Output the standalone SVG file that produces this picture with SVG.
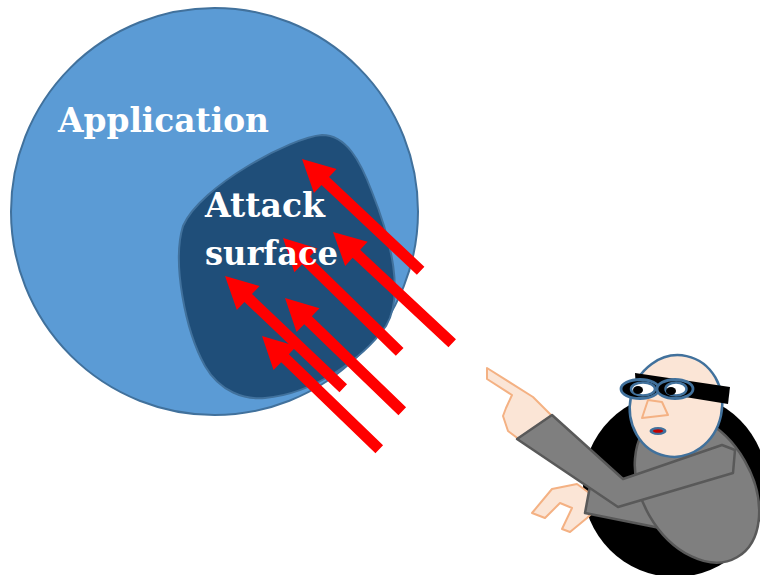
<svg xmlns="http://www.w3.org/2000/svg" xmlns:xlink="http://www.w3.org/1999/xlink" width="760" height="575" viewBox="0 0 760 575">
  <style>
    .label { font-family: "DejaVu Serif", "Liberation Serif", serif; font-weight: bold; fill: #ffffff; }
    .skin { fill: #fbe5d6; stroke: #f4b183; stroke-width: 2; stroke-linejoin: round; }
    .cloth { fill: #7f7f7f; stroke: #595959; stroke-width: 2.5; stroke-linejoin: round; }
    .rim { fill: #fbe5d6; stroke: #41719c; stroke-width: 2.5; }
    .lens-out { fill: #000000; stroke: #41719c; stroke-width: 2.8; }
    .lens-in { fill: #ffffff; stroke: #41719c; stroke-width: 2.5; }
    .arrow { fill: #ff0000; }
  </style>
  <defs>
    <!-- arrow pointing along -x, tip at origin -->
    <path id="arr" d="M0,0 L32,-16.5 L32,-5.5 L163,-5.5 L163,5.5 L32,5.5 L32,16.5 Z"/>
  </defs>

  <rect width="760" height="575" fill="#ffffff"/>

  <g id="application">
    <circle cx="214.5" cy="211.5" r="203.5" fill="#5b9bd5" stroke="#41719c" stroke-width="2"/>
  </g>

  <g id="attack-surface">
    <path d="M322,135 C292,137 200,186 183,226 C172,262 185,330 205,366 C220,392 245,400 265,398 C312,394 362,360 386,326 C404,296 392,242 372,192 C360,160 346,135 322,135 Z" fill="#1f4e79" stroke="#41719c" stroke-width="2"/>
  </g>

  <g id="connectors" class="arrow">
    <use xlink:href="#arr" href="#arr" transform="translate(302,159) rotate(43.3)"/>
    <use xlink:href="#arr" href="#arr" transform="translate(333,232) rotate(43.0)"/>
    <use xlink:href="#arr" href="#arr" transform="translate(283,238) rotate(44.3)"/>
    <use xlink:href="#arr" href="#arr" transform="translate(225,276) rotate(43.5)"/>
    <use xlink:href="#arr" href="#arr" transform="translate(285,298) rotate(44.0)"/>
    <use xlink:href="#arr" href="#arr" transform="translate(262,336) rotate(44.0)"/>
  </g>

  <g id="labels">
    <text class="label" x="58" y="132" font-size="34" textLength="211" lengthAdjust="spacingAndGlyphs">Application</text>
    <text class="label" x="205" y="217" font-size="34" textLength="120" lengthAdjust="spacingAndGlyphs">Attack</text>
    <text class="label" x="205" y="265" font-size="34" textLength="133" lengthAdjust="spacingAndGlyphs">surface</text>
  </g>

  <g id="attacker">
    <circle cx="675" cy="485" r="92" fill="#000000"/>
    <!-- lower hand and sleeve -->
    <path class="skin" d="M532,513 L552,489 L577,484 L592,495 L592,513 L587,518 L570,532 L562,529 L572,508 L560,503 L545,518 Z"/>
    <path class="cloth" d="M590,486 L585,513 L660,528 L700,505 L640,478 Z"/>
    <!-- body -->
    <ellipse class="cloth" cx="697" cy="488" rx="55" ry="80" transform="rotate(-30 697 488)"/>
    <!-- head -->
    <ellipse class="rim" cx="676" cy="406" rx="46" ry="51" transform="rotate(12 676 406)"/>
    <!-- mask band -->
    <path d="M635,373 L730,387 L728,404 L636,389 Z" fill="#000000"/>
    <!-- goggles -->
    <ellipse class="lens-out" cx="640" cy="389" rx="19" ry="9.5"/>
    <ellipse class="lens-in" cx="643" cy="389" rx="12" ry="6.5"/>
    <ellipse cx="638" cy="390" rx="5" ry="4" fill="#000000"/>
    <ellipse class="lens-out" cx="675" cy="389" rx="18" ry="9.5"/>
    <ellipse class="lens-in" cx="676" cy="389" rx="10.5" ry="6.5"/>
    <ellipse cx="671" cy="391" rx="5" ry="4" fill="#000000"/>
    <!-- nose and mouth -->
    <path class="skin" d="M648,400 L642,418 L668,415 L662,402 Z"/>
    <ellipse cx="658" cy="431" rx="8.5" ry="4" fill="#41719c"/>
    <ellipse cx="658" cy="431" rx="5" ry="1.8" fill="#c00000"/>
    <!-- pointing arm -->
    <path class="skin" d="M487,368 L533,397 L552,416 L520,440 L508,431 L503,416 L506,408 L512,395 L487,379 Z"/>
    <path class="cloth" d="M517,439 L552,415 L623,479 L722,445 L735,450 L733,473 L618,507 Z"/>
  </g>
</svg>
